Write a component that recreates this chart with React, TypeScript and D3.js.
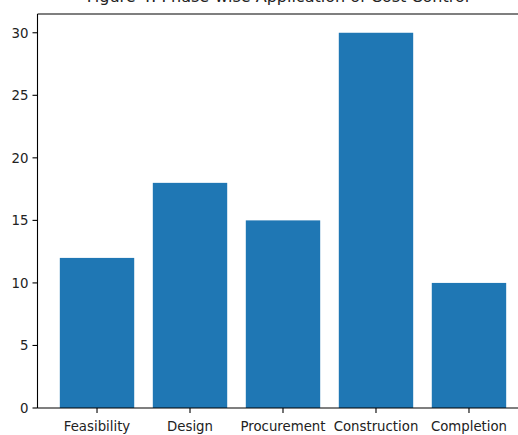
import React from "react";
import * as d3 from "d3";

const categories: string[] = ["Feasibility", "Design", "Procurement", "Construction", "Completion"];
const values: number[] = [12, 18, 15, 30, 10];
const yTicks: number[] = [0, 5, 10, 15, 20, 25, 30];
const titleText = "Figure 4: Phase-wise Application of Cost Control";

const W = 518;
const H = 435;
const left = 37.5;
const right = 528.5;
const top = 14;
const bottom = 408;
const font = "DejaVu Sans, sans-serif";

export default function App() {
  const x = d3.scaleLinear().domain([-0.64, 4.64]).range([left, right]);
  const y = d3.scaleLinear().domain([0, 31.5]).range([bottom, top]);
  const bw = x(0.8) - x(0);
  return (
    <svg
      width={W}
      height={H}
      style={{ position: "absolute", left: 0, top: 0, background: "#fff" }}
      fontFamily={font}
    >
      <rect x={0} y={0} width={W} height={H} fill="#fff" />
      {values.map((v, i) => (
        <rect
          key={categories[i]}
          x={x(i) - bw / 2}
          y={y(v)}
          width={bw}
          height={y(0) - y(v)}
          fill="#1f77b4"
        />
      ))}
      {/* spines */}
      <line x1={left} x2={left} y1={top} y2={bottom} stroke="#000" strokeWidth={1.1} />
      <line x1={left} x2={right} y1={bottom} y2={bottom} stroke="#000" strokeWidth={1.1} />
      <line x1={left} x2={right} y1={top} y2={top} stroke="#000" strokeWidth={1.1} />
      <line x1={right} x2={right} y1={top} y2={bottom} stroke="#000" strokeWidth={1.1} />
      {yTicks.map((t) => (
        <g key={t}>
          <line x1={left - 5} x2={left} y1={y(t)} y2={y(t)} stroke="#000" strokeWidth={1.1} />
          <text x={left - 9} y={y(t)} dy="0.36em" textAnchor="end" fontSize={13.3} fill="#222">
            {t}
          </text>
        </g>
      ))}
      {categories.map((c, i) => (
        <g key={c}>
          <line x1={x(i)} x2={x(i)} y1={bottom} y2={bottom + 5} stroke="#000" strokeWidth={1.1} />
          <text x={x(i)} y={bottom + 13} dy="0.76em" textAnchor="middle" fontSize={13.3} fill="#222">
            {c}
          </text>
        </g>
      ))}
      <text x={278} y={2} textAnchor="middle" fontSize={16} fill="#222">
        {titleText}
      </text>
    </svg>
  );
}
